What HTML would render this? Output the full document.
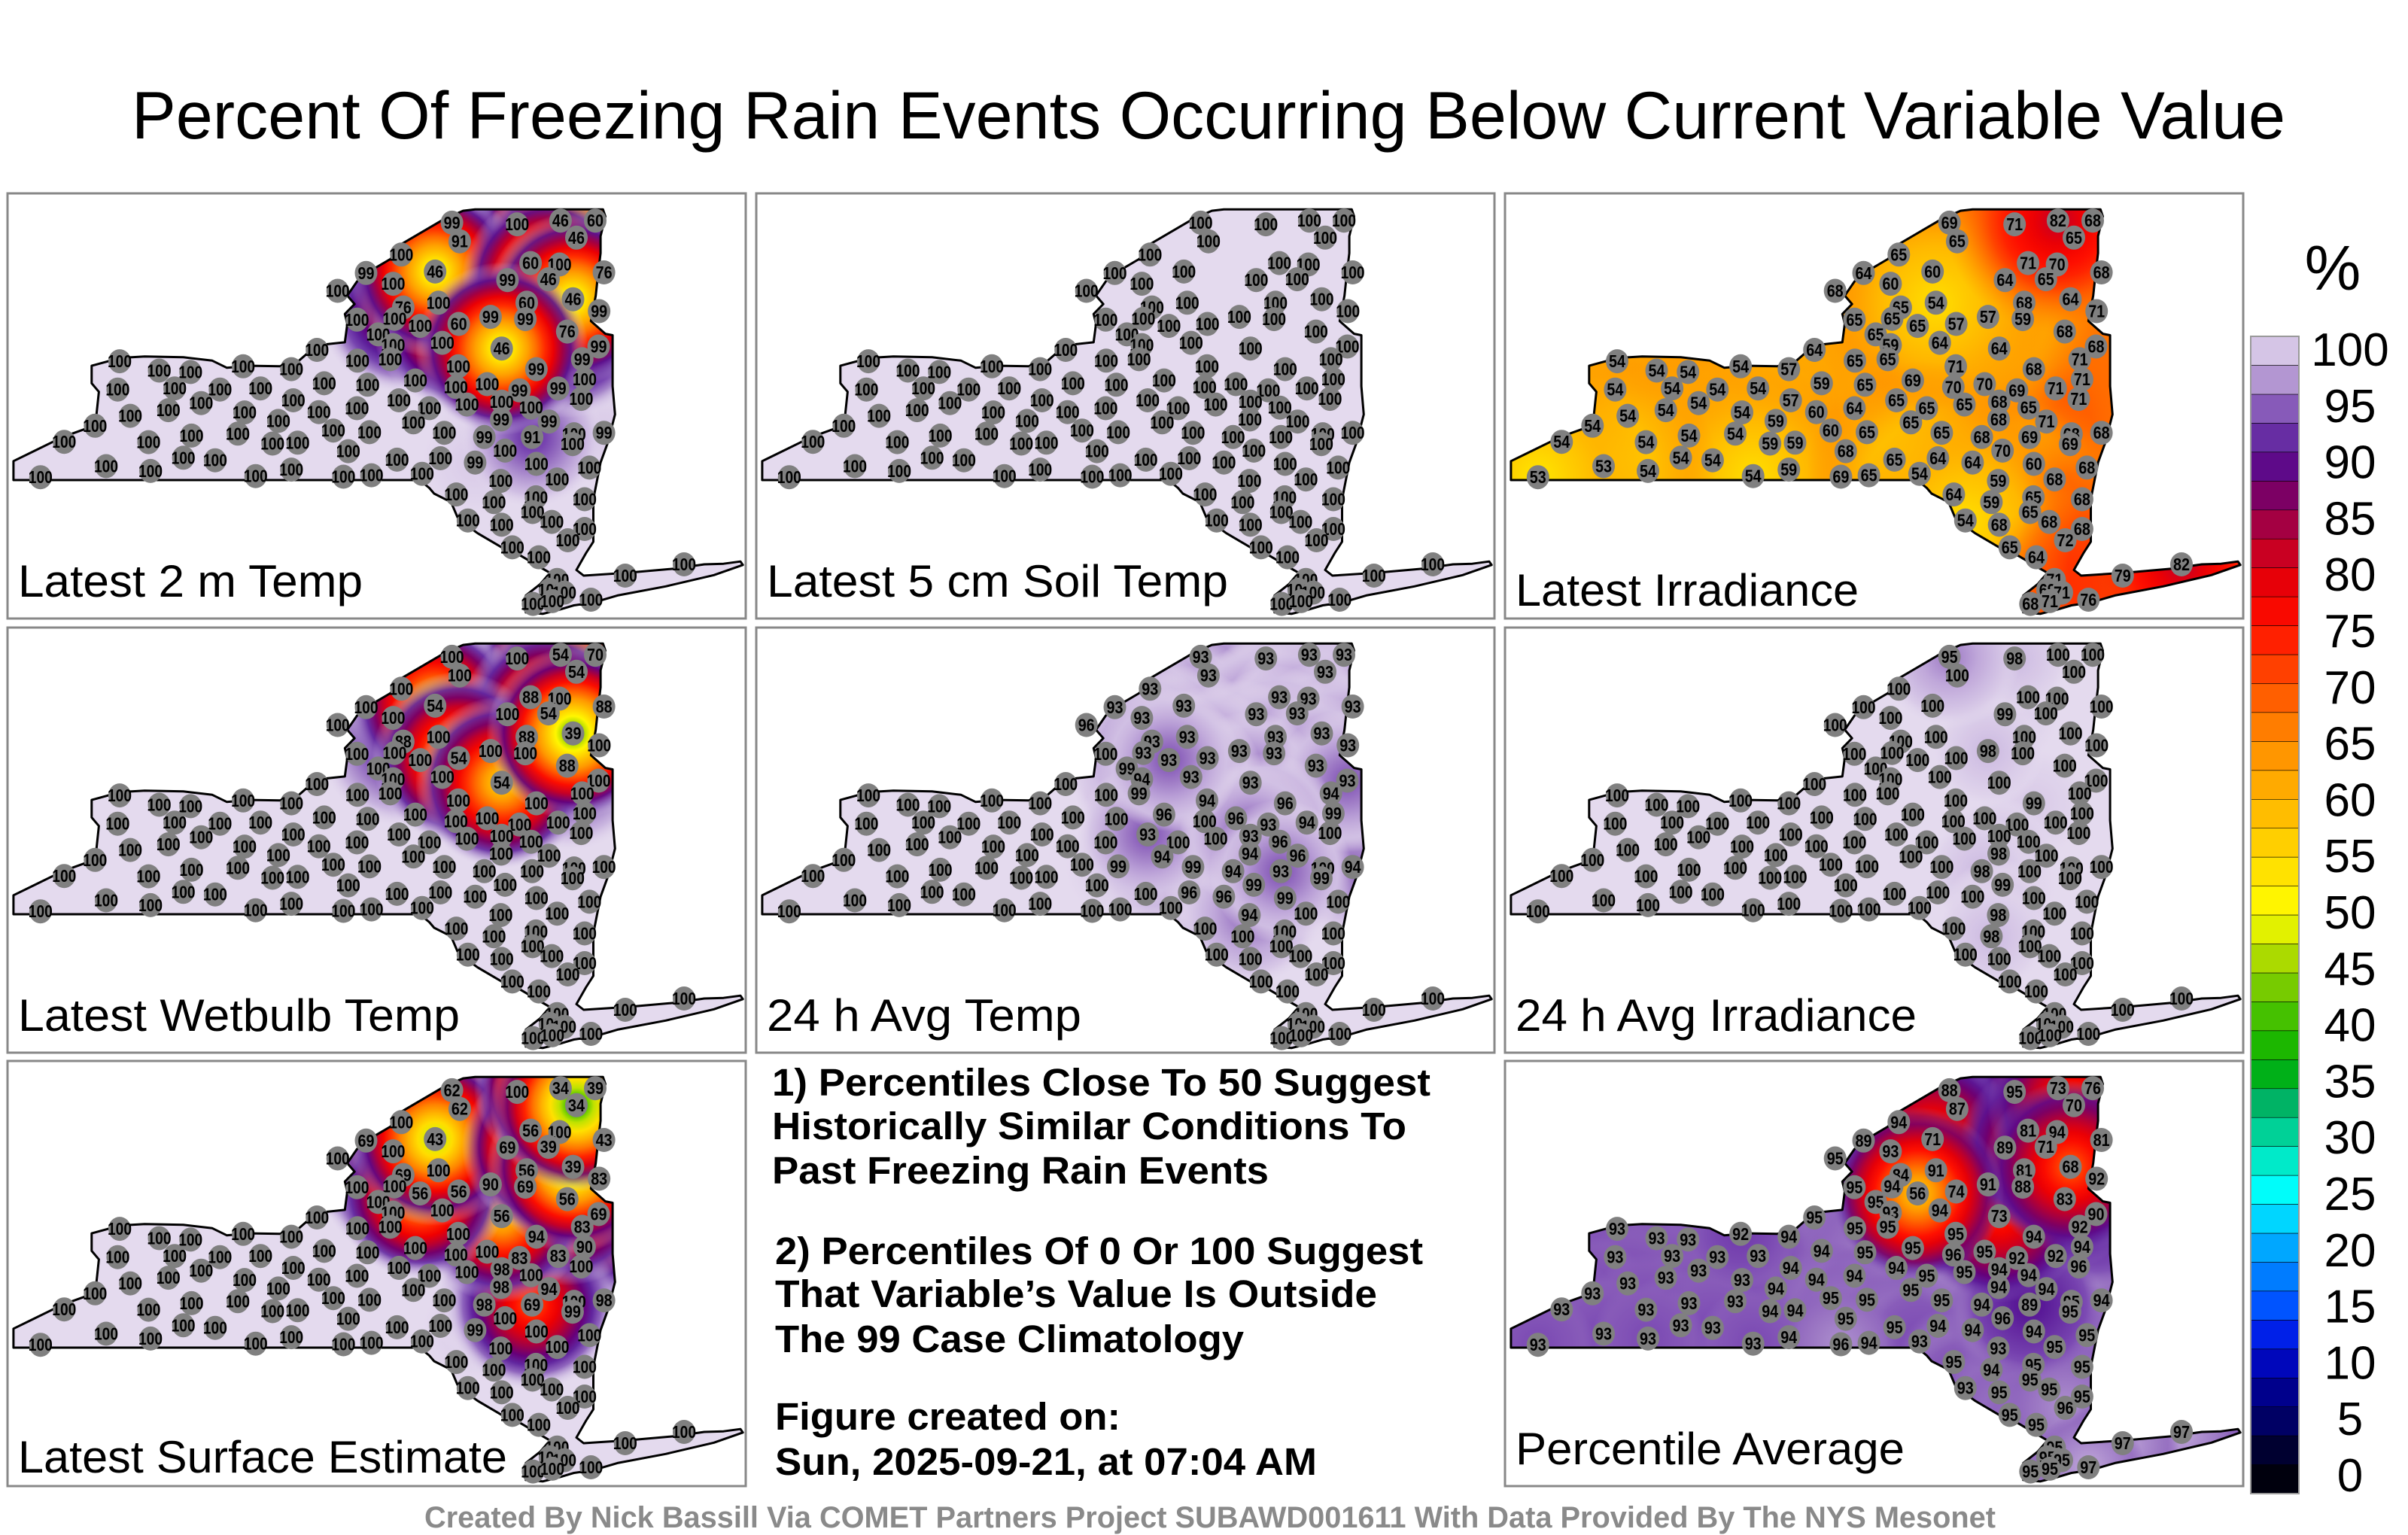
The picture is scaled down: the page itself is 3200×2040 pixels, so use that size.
<!DOCTYPE html>
<html><head><meta charset="utf-8"><style>
html,body{margin:0;padding:0;background:#fff;}
svg{display:block;font-family:"Liberation Sans",sans-serif;}
</style></head><body>
<svg id="fig" width="3200" height="2040" viewBox="0 0 3200 2040" xmlns="http://www.w3.org/2000/svg">
<defs id="defs"></defs>
<text x="1606" y="184" text-anchor="middle" font-size="89" textLength="2862" lengthAdjust="spacingAndGlyphs">Percent Of Freezing Rain Events Occurring Below Current Variable Value</text>
<g id="panels"></g>
<g font-weight="bold" font-size="51">
<text x="1026" y="1456" textLength="875" lengthAdjust="spacingAndGlyphs">1) Percentiles Close To 50 Suggest</text>
<text x="1026" y="1514" textLength="843" lengthAdjust="spacingAndGlyphs">Historically Similar Conditions To</text>
<text x="1026" y="1573" textLength="660" lengthAdjust="spacingAndGlyphs">Past Freezing Rain Events</text>
<text x="1030" y="1680" textLength="861" lengthAdjust="spacingAndGlyphs">2) Percentiles Of 0 Or 100 Suggest</text>
<text x="1030" y="1737" textLength="800" lengthAdjust="spacingAndGlyphs">That Variable’s Value Is Outside</text>
<text x="1030" y="1797" textLength="623" lengthAdjust="spacingAndGlyphs">The 99 Case Climatology</text>
<text x="1030" y="1900" textLength="459" lengthAdjust="spacingAndGlyphs">Figure created on:</text>
<text x="1030" y="1960" textLength="720" lengthAdjust="spacingAndGlyphs">Sun, 2025-09-21, at 07:04 AM</text>
</g>
<g id="colorbar"></g>
<text x="3100" y="385" text-anchor="middle" font-size="84">%</text>
<text x="1608" y="2030" text-anchor="middle" font-size="40" font-weight="bold" fill="#8a8a8a" textLength="2088" lengthAdjust="spacingAndGlyphs">Created By Nick Bassill Via COMET Partners Project SUBAWD001611 With Data Provided By The NYS Mesonet</text>
</svg>
<script>
const NS="http://www.w3.org/2000/svg";
const stationX=[937,1072,1162,1234,953,1195,832,1100,1160,902,1252,759,1052,1137,815,700,1188,909,1092,836,1242,740,818,1017,1089,951,1176,784,1040,917,815,1241,657,1207,741,809,248,504,604,950,1112,330,395,861,1212,672,762,945,1010,1077,1157,244,362,456,540,1205,608,827,1040,968,417,740,890,1101,349,661,507,270,1039,1138,577,857,197,691,766,921,397,493,1103,1252,1190,1004,133,308,565,617,1187,1047,722,380,446,823,913,220,985,1112,1222,312,604,530,712,770,875,84,1038,1155,946,1024,1111,1212,1104,970,1040,1144,1212,1177,1062,1117,1418,1296,1155,1140,1170,1225,1105,1145,871];
const stationY=[122,128,115,115,188,175,235,265,270,295,298,300,325,322,338,363,393,405,405,422,435,465,462,455,463,480,507,517,567,547,555,560,572,605,610,605,612,630,640,630,640,645,650,680,676,690,695,703,693,715,708,712,708,712,708,745,750,750,755,765,760,778,778,776,785,792,793,805,818,825,823,828,840,857,863,865,875,868,880,865,870,880,897,898,903,900,905,928,930,953,962,960,955,983,970,975,988,1000,995,1018,1020,1015,1010,1022,1035,1030,1083,1110,1093,1100,1145,1175,1190,1180,1205,1245,1270,1305,1330,1370,1385,1420,1430,1455,1470,1460,487];
const temp2m=[99,100,46,60,91,46,100,60,100,46,76,99,99,46,100,100,46,100,60,76,99,100,100,99,99,60,76,100,46,100,100,99,100,99,100,100,100,100,100,100,99,100,100,100,100,100,100,100,100,99,99,100,100,100,100,100,100,100,100,100,100,100,100,100,100,100,100,100,99,99,100,100,100,100,100,100,100,100,91,99,100,99,100,100,100,100,100,100,100,100,100,100,100,100,99,100,100,100,100,100,100,100,100,100,100,100,100,100,100,100,100,100,100,100,100,100,100,100,100,100,100,100,100,100,100,100,100];
const soil5cm=[100,100,100,100,100,100,100,100,100,100,100,100,100,100,100,100,100,100,100,100,100,100,100,100,100,100,100,100,100,100,100,100,100,100,100,100,100,100,100,100,100,100,100,100,100,100,100,100,100,100,100,100,100,100,100,100,100,100,100,100,100,100,100,100,100,100,100,100,100,100,100,100,100,100,100,100,100,100,100,100,100,100,100,100,100,100,100,100,100,100,100,100,100,100,100,100,100,100,100,100,100,100,100,100,100,100,100,100,100,100,100,100,100,100,100,100,100,100,100,100,100,100,100,100,100,100,100];
const irradiance=[69,71,82,68,65,65,65,71,70,60,68,64,64,65,60,68,64,54,68,65,71,65,65,57,59,57,68,65,64,64,59,68,64,71,65,65,54,54,57,71,68,54,54,69,71,59,65,70,70,69,71,54,54,54,54,71,57,65,68,65,54,64,65,65,54,60,54,54,68,71,59,65,54,60,65,65,54,54,69,68,68,68,54,54,59,59,69,70,68,54,54,65,64,53,64,60,68,54,59,54,69,65,54,53,59,68,64,59,65,68,65,54,68,68,68,72,65,64,82,79,71,69,71,76,68,71,65];
const wetbulb=[100,100,54,70,100,54,100,88,100,54,88,100,100,54,100,100,39,100,88,88,100,100,100,100,100,54,88,100,54,100,100,100,100,100,100,100,100,100,100,100,100,100,100,100,100,100,100,100,100,100,100,100,100,100,100,100,100,100,100,100,100,100,100,100,100,100,100,100,100,100,100,100,100,100,100,100,100,100,100,100,100,100,100,100,100,100,100,100,100,100,100,100,100,100,100,100,100,100,100,100,100,100,100,100,100,100,100,100,100,100,100,100,100,100,100,100,100,100,100,100,100,100,100,100,100,100,100];
const avgTemp24h=[93,93,93,93,93,93,93,93,93,93,93,93,93,93,93,96,93,93,93,93,93,100,93,93,93,93,93,99,93,93,94,93,100,94,100,99,100,100,100,94,96,100,100,96,99,100,100,100,96,93,94,100,100,100,100,100,100,93,93,100,100,100,100,96,100,100,100,100,94,96,100,94,100,100,99,99,100,100,93,94,100,94,100,100,100,100,99,99,100,100,100,100,96,100,96,99,100,100,100,100,100,100,100,100,94,100,100,100,100,100,100,100,100,100,100,100,100,100,100,100,100,100,100,100,100,100,93];
const avgIrr24h=[95,98,100,100,100,100,100,100,100,100,100,100,99,100,100,100,100,100,100,100,100,100,100,98,100,100,100,100,100,100,100,100,100,100,100,100,100,100,100,100,99,100,100,100,100,100,100,100,100,100,100,100,100,100,100,100,100,100,100,100,100,100,100,100,100,100,100,100,98,100,100,100,100,100,100,100,100,100,100,100,100,98,100,100,100,100,100,99,100,100,100,100,100,100,100,100,100,100,100,100,100,100,100,100,98,100,100,98,100,100,100,100,100,100,100,100,100,100,100,100,100,100,100,100,100,100,100];
const surfaceEst=[62,100,34,39,62,34,100,56,100,43,43,69,69,39,100,100,39,100,56,69,83,100,100,90,69,56,56,100,56,100,100,69,100,83,100,100,100,100,100,100,94,100,100,100,90,100,100,100,100,83,83,100,100,100,100,100,100,100,98,100,100,100,100,100,100,100,100,100,98,94,100,100,100,100,100,100,100,100,69,98,100,98,100,100,100,100,99,100,100,100,100,100,100,100,99,100,100,100,100,100,100,100,100,100,100,100,100,100,100,100,100,100,100,100,100,100,100,100,100,100,100,100,100,100,100,100,56];
const pctAverage=[88,95,73,76,87,70,94,81,94,71,81,89,89,71,93,95,68,91,81,84,92,95,94,91,88,74,83,95,73,94,93,90,95,92,95,95,93,92,94,95,94,93,93,95,94,94,95,96,95,92,92,93,93,93,93,96,94,94,94,95,93,94,95,94,93,94,93,93,94,94,94,95,93,95,95,95,93,93,89,94,95,94,93,93,94,94,95,96,95,93,93,95,94,93,94,94,95,93,94,93,96,94,93,93,93,95,95,94,95,95,95,93,95,95,95,96,95,95,97,97,95,95,95,97,95,95,56];
const panelTitles=["Latest 2 m Temp","Latest 5 cm Soil Temp","Latest Irradiance","Latest Wetbulb Temp","24 h Avg Temp","24 h Avg Irradiance","Latest Surface Estimate","Percentile Average"];
const panelBases=[100,100,65,100,100,100,100,94];
const cbTicks=[0,5,10,15,20,25,30,35,40,45,50,55,60,65,70,75,80,85,90,95,100];

const panelValues=[temp2m,soil5cm,irradiance,wetbulb,avgTemp24h,avgIrr24h,surfaceEst,pctAverage];
const panelPos=[[10,257],[1005,257],[2000,257],[10,834],[1005,834],[2000,834],[10,1410],[1005,1410],[2000,1410]];
const panelSlots=[0,1,2,3,4,5,6,8];
const titleW=[458,613,456,587,418,533,650,517];
const titleY=[536,536,548,536,536,536,547,536];
const PW=981,PH=565;
const outline=[[28,965],[70,930],[130,880],[195,840],[200,800],[205,720],[190,690],[190,628],[250,600],[300,595],[380,598],[440,610],[470,635],[520,628],[580,630],[620,610],[640,580],[660,555],[715,545],[720,480],[715,445],[735,410],[720,380],[740,330],[780,280],[810,250],[830,200],[880,150],[920,110],[960,80],[985,75],[1250,75],[1255,100],[1245,170],[1245,230],[1240,300],[1235,380],[1225,470],[1255,515],[1270,520],[1270,700],[1275,800],[1260,900],[1245,970],[1230,1100],[1230,1250],[1215,1290],[1195,1350],[1210,1370],[1300,1360],[1400,1345],[1460,1330],[1500,1328],[1535,1320],[1540,1332],[1480,1368],[1380,1408],[1280,1440],[1230,1465],[1190,1475],[1160,1490],[1125,1505],[1090,1500],[1090,1440],[1120,1400],[1140,1360],[1120,1340],[1080,1300],[1040,1270],[990,1220],[950,1170],[935,1110],[900,1080],[890,1060],[870,1032],[28,1032]];
function X(zx){return zx/1.56-10;}
function Y(zy){return zy/2.66-7;}
const cmap=[[0,"#000000"],[3,"#000020"],[6,"#000060"],[10,"#0000a0"],[13,"#0010e0"],[16,"#0050ff"],[20,"#0090ff"],[23,"#00c8ff"],[26,"#00ffff"],[30,"#00e0b0"],[34,"#00b060"],[37,"#00b000"],[41,"#40c000"],[45,"#90d000"],[48,"#d0e800"],[50,"#ffff00"],[55,"#ffd800"],[60,"#ffb400"],[65,"#ff8c00"],[70,"#ff5000"],[75,"#ff1000"],[78,"#f00000"],[82,"#c0002a"],[86,"#800060"],[88,"#600080"],[90,"#5a1a98"],[93,"#7a48b2"],[95,"#9c78c4"],[97,"#c0a8da"],[100,"#e4daee"]];
function hex(h){return [1,3,5].map(i=>parseInt(h.substr(i,2),16));}
function color(v){
  v=Math.max(0,Math.min(100,v));
  for(let i=1;i<cmap.length;i++){
    if(v<=cmap[i][0]){
      const a=cmap[i-1],b=cmap[i],t=(v-a[0])/(b[0]-a[0]);
      const ca=hex(a[1]),cb=hex(b[1]);
      return "rgb("+ca.map((c,k)=>Math.round(c+(cb[k]-c)*t)).join(",")+")";
    }
  }
  return cmap[cmap.length-1][1];
}
function el(tag,attrs,parent){const e=document.createElementNS(NS,tag);for(const k in attrs)e.setAttribute(k,attrs[k]);if(parent)parent.appendChild(e);return e;}
const defs=document.getElementById("defs");
const outlinePts=outline.map(p=>X(p[0]).toFixed(1)+","+Y(p[1]).toFixed(1)).join(" ");
const cp=el("clipPath",{id:"nyclip"},defs);
el("polygon",{points:outlinePts},cp);
const panelsG=document.getElementById("panels");
let gid=0;
panelValues.forEach((vals,p)=>{
  const pos=panelPos[panelSlots[p]];
  const g=el("g",{transform:"translate("+pos[0]+","+pos[1]+")"},panelsG);
  
  
  el("rect",{x:0,y:0,width:PW,height:PH,fill:"#fff",stroke:"#888",'stroke-width':3},g);
  const base=panelBases[p];
  const fillG=el("g",{'clip-path':"url(#nyclip)"},g);
  el("polygon",{points:outlinePts,fill:color(base)},fillG);
  const order=vals.map((v,i)=>i).filter(i=>vals[i]!==base).sort((a,b)=>Math.abs(vals[a]-base)-Math.abs(vals[b]-base));
  const flat=(p===2);
  order.forEach(i=>{
    const v=vals[i];const id="rg"+(gid++);
    const grad=el("radialGradient",{id:id},defs);
    for(let s=0;s<=10;s++){
      const t=s/10;const val=v+(base-v)*t;
      const fs=flat?0.55:0.78;
      const op=t<fs?1:Math.max(0,(1-t)/(1-fs));
      el("stop",{offset:t,'stop-color':color(val),'stop-opacity':op.toFixed(2)},grad);
    }
    const R=flat?150:(Math.abs(v-base)<4?75:(Math.abs(v-base)<12?95:115));
    const blob=el("circle",{cx:X(stationX[i]).toFixed(1),cy:Y(stationY[i]).toFixed(1),r:R,fill:"url(#"+id+")"},fillG);
    
    
  });
  const st=el("polygon",{points:outlinePts,fill:"none",stroke:"#000",'stroke-width':3,'stroke-linejoin':"round"},g);
  
  
  vals.forEach((v,i)=>{
    const cx=X(stationX[i]),cy=Y(stationY[i]);
    const sg=el("g",{},g);
    
    
    el("ellipse",{cx:cx.toFixed(1),cy:cy.toFixed(1),rx:15,ry:16,fill:"#808080"},sg);
    const s=String(v);
    const tx=el("text",{x:cx.toFixed(1),y:(cy+8).toFixed(1),'text-anchor':"middle",'font-size':23,'font-weight':"bold",textLength:s.length>2?32:22,lengthAdjust:"spacingAndGlyphs"},sg);
    tx.textContent=s;
  });
  const lb=el("text",{x:14,y:titleY[p],'font-size':60,textLength:titleW[p],lengthAdjust:"spacingAndGlyphs"},g);
  
  
  lb.textContent=panelTitles[p];
});
// colorbar
const cb=document.getElementById("colorbar");
const cbX=2991,cbW=64,cbTop=447,cbBot=1985;
function cbY(v){return cbBot-(v/100)*(cbBot-cbTop);}
for(let v=0;v<100;v+=2.5){
  const r=el("rect",{x:cbX,y:cbY(v+2.5).toFixed(1),width:cbW,height:(cbY(v)-cbY(v+2.5)).toFixed(1),fill:color(v+1.25),stroke:"#000",'stroke-width':0.6},cb);
  
  
}
el("rect",{x:cbX,y:cbTop,width:cbW,height:cbBot-cbTop,fill:"none",stroke:"#999",'stroke-width':2},cb);
const labTop=464,labBot=1960;
cbTicks.forEach((t,i)=>{
  const y=labBot-(t/100)*(labBot-labTop);
  const tx=el("text",{x:3123,y:(y+22).toFixed(1),'text-anchor':"middle",'font-size':62},cb);
  
  
  tx.textContent=String(t);
});
</script>
</body></html>
